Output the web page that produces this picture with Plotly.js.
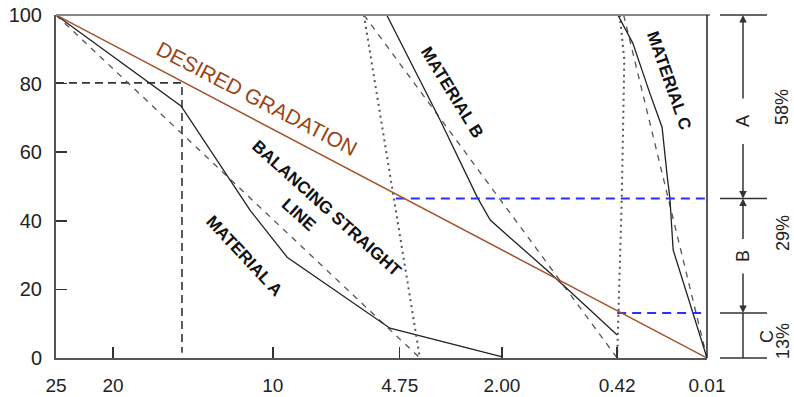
<!DOCTYPE html>
<html>
<head>
<meta charset="utf-8">
<script src="https://cdn.plot.ly/plotly-3.0.1.min.js"></script>
<style>html,body{margin:0;padding:0;background:#fff}#chart{width:794px;height:397px}</style>
</head>
<body>
<div id="chart"></div>
<script>
// Sieve positions along the (non-linear) sieve-size axis, 0 = 25 mm, 100 = 0.01 mm
const sieveTickPos = [0, 8.76, 33.3, 52.8, 68.5, 86.2, 100];
const sieveTickText = ['25', '20', '10', '4.75', '2.00', '0.42', '0.01'];
const pctTicks = [0, 20, 40, 60, 80, 100];

// Desired gradation
const desiredX = [0, 100];
const desiredY = [100, 0];

// Material A
const matA_x = [0, 19.2, 25.2, 29.8, 35.5, 45.2, 51.3, 68.4];
const matA_y = [100, 73.5, 56.3, 43.1, 29.4, 16.6, 8.7, 0.4];
const balA_x = [0, 55.9];
const balA_y = [100, 0];

// Material B
const matB_x = [50.8, 59.0, 64.7, 66.7, 75.9, 86.2];
const matB_y = [100, 69.4, 46.9, 40.2, 24.8, 6.7];
const balB_x = [47.3, 86.2];
const balB_y = [100, 0];

// Material C
const matC_x = [86.3, 88.6, 91.2, 93.1, 93.9, 94.3, 94.8, 100];
const matC_y = [100, 91.8, 77.3, 67.3, 52.8, 46.6, 31.5, 0];
const balC_x = [87.2, 100];
const balC_y = [100, 0];

// Dotted connecting lines
const dotAB_x = [47.3, 55.9];
const dotAB_y = [100, 0];
const dotBC_x = [86.6, 87.3, 86.9, 86.2];
const dotBC_y = [100, 86.9, 46.1, 0];

// Reading of 80 % passing for Material A
const readX = [0, 19.35, 19.35];
const readY = [80.2, 80.2, 1.5];

// Split levels (blue dashed) and blend proportions
const splitUpperX = [52.2, 100];
const splitUpperY = [46.5, 46.5];
const splitLowerX = [86.2, 100];
const splitLowerY = [13.1, 13.1];
const blendLevels = [100, 46.5, 13.1, 0];
const blendNames = ['A', 'B', 'C'];
const blendPct = ['58%', '29%', '13%'];

const dark = '#222';
const grey = '#555';
const traces = [
  {x: readX, y: readY, mode: 'lines', line: {color: '#333', width: 1.6, dash: '8px,5px'}},
  {x: balA_x, y: balA_y, mode: 'lines', line: {color: grey, width: 1.3, dash: '6px,6px'}},
  {x: matA_x, y: matA_y, mode: 'lines', line: {color: dark, width: 1.3}},
  {x: dotAB_x, y: dotAB_y, mode: 'lines', line: {color: grey, width: 2, dash: '2px,4px'}},
  {x: balB_x, y: balB_y, mode: 'lines', line: {color: grey, width: 1.3, dash: '6px,6px'}},
  {x: matB_x, y: matB_y, mode: 'lines', line: {color: dark, width: 1.3}},
  {x: dotBC_x, y: dotBC_y, mode: 'lines', line: {color: grey, width: 2, dash: '2px,4px'}},
  {x: balC_x, y: balC_y, mode: 'lines', line: {color: grey, width: 1.3, dash: '6px,6px'}},
  {x: matC_x, y: matC_y, mode: 'lines', line: {color: dark, width: 1.3}},
  {x: splitUpperX, y: splitUpperY, mode: 'lines', line: {color: '#2233ff', width: 2, dash: '9px,6px'}},
  {x: splitLowerX, y: splitLowerY, mode: 'lines', line: {color: '#2233ff', width: 2, dash: '9px,6px'}},
  {x: desiredX, y: desiredY, mode: 'lines', line: {color: '#a5532b', width: 1.5}}
];

const lblFont = {family: 'Liberation Sans, Arial, sans-serif', size: 17, color: '#111', weight: 'bold'};
const annotations = [
  {x: 30.9, y: 75.8, text: 'DESIRED GRADATION', textangle: 27.5, font: {family: 'Liberation Sans, Arial, sans-serif', size: 21, color: '#9a4418'}},
  {x: 41.6, y: 43.7, text: 'BALANCING STRAIGHT', textangle: 42, font: lblFont},
  {x: 37.2, y: 41.7, text: 'LINE', textangle: 42, font: lblFont},
  {x: 29.0, y: 29.7, text: 'MATERIAL A', textangle: 47, font: lblFont},
  {x: 60.8, y: 77.3, text: 'MATERIAL B', textangle: 58.5, font: lblFont},
  {x: 94.2, y: 81.0, text: 'MATERIAL C', textangle: 70.7, font: lblFont}
].map(a => Object.assign({xref: 'x', yref: 'y', showarrow: false, xanchor: 'center', yanchor: 'middle'}, a));

// Right-hand proportion scale (paper coordinates)
const W = 651, toPX = px => (px - 56) / W;
const scaleX = toPX(743), tickL = toPX(720), tickR = toPX(767);
const shapes = [
  {type: 'line', xref: 'paper', yref: 'paper', x0: 0, x1: toPX(710), y0: 1, y1: 1, line: {color: '#888', width: 2}},
  {type: 'line', xref: 'paper', yref: 'paper', x0: 1, x1: 1, y0: 0, y1: 1, line: {color: '#222', width: 1.5}}
];
blendLevels.forEach(v => shapes.push({type: 'line', xref: 'paper', yref: 'paper', x0: tickL, x1: tickR, y0: v / 100, y1: v / 100, line: {color: '#333', width: 1.5}}));
shapes.push({type: 'line', xref: 'paper', yref: 'paper', x0: scaleX, x1: scaleX, y0: blendLevels[3] / 100, y1: blendLevels[2] / 100, line: {color: '#333', width: 1.5}});

const arrowFrom = (v, dy) => ({xref: 'paper', yref: 'paper', x: scaleX, y: v / 100, ax: 0, ay: dy, text: '', showarrow: true, arrowhead: 2, arrowsize: 1, arrowwidth: 1.5, arrowcolor: '#333'});
annotations.push(arrowFrom(blendLevels[0], 85));
annotations.push(arrowFrom(blendLevels[1], -56));
annotations.push(arrowFrom(blendLevels[1], 42));
annotations.push(arrowFrom(blendLevels[2], -41));

const sideFont = {family: 'Liberation Sans, Arial, sans-serif', size: 18, color: '#222'};
const nameY = [121, 256, 337], nameX = [743, 743, 767];
const pctY = [107, 233, 341], pctX = [782, 783, 783];
blendNames.forEach((n, i) => {
  annotations.push({xref: 'paper', yref: 'paper', x: toPX(nameX[i]), y: (358 - nameY[i]) / 343, text: n, textangle: -90, showarrow: false, font: sideFont, xanchor: 'center', yanchor: 'middle'});
  annotations.push({xref: 'paper', yref: 'paper', x: toPX(pctX[i]), y: (358 - pctY[i]) / 343, text: blendPct[i], textangle: -90, showarrow: false, font: sideFont, xanchor: 'center', yanchor: 'middle'});
});

const layout = {
  width: 794, height: 397,
  margin: {l: 56, r: 87, t: 15, b: 39, pad: 0},
  paper_bgcolor: '#fff', plot_bgcolor: '#fff',
  showlegend: false,
  font: {family: 'Liberation Sans, Arial, sans-serif', color: '#222'},
  xaxis: {range: [0, 100], showgrid: false, zeroline: false, showline: true, linecolor: '#555', linewidth: 2,
          tickmode: 'array', tickvals: sieveTickPos, ticktext: sieveTickText, ticks: 'inside', ticklen: 11, tickwidth: 1.5, tickcolor: '#333',
          tickfont: {size: 19, color: '#222'}, ticklabelstandoff: 9},
  yaxis: {range: [0, 100], showgrid: false, zeroline: false, showline: true, linecolor: '#555', linewidth: 2,
          tickmode: 'array', tickvals: pctTicks, ticktext: pctTicks.map(String), ticks: 'inside', ticklen: 11, tickwidth: 1.5, tickcolor: '#333',
          tickfont: {size: 20, color: '#222'}, ticklabelstandoff: 8},
  shapes: shapes,
  annotations: annotations
};

Plotly.newPlot('chart', traces, layout, {staticPlot: true, displayModeBar: false});
</script>
</body>
</html>
